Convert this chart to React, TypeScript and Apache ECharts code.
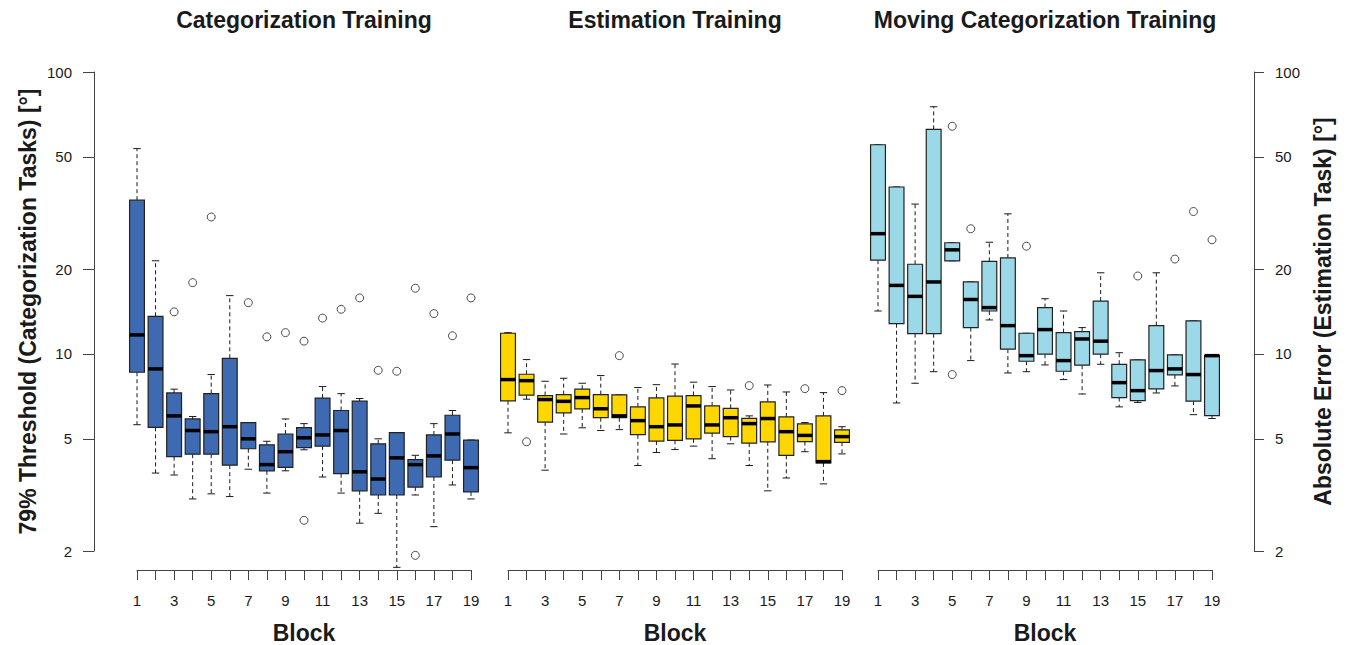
import React, { useEffect, useRef } from 'react';
import * as echarts from 'echarts';

// ---- categories & ticks ----
const blocks = [1, 2, 3, 4, 5, 6, 7, 8, 9, 10, 11, 12, 13, 14, 15, 16, 17, 18, 19];
const yTickValues = [2, 5, 10, 20, 50, 100];
const panelTitles = ['Categorization Training', 'Estimation Training', 'Moving Categorization Training'];
const xAxisTitle = 'Block';
const leftAxisTitle = '79% Threshold (Categorization Tasks) [°]';
const rightAxisTitle = 'Absolute Error (Estimation Task) [°]';

// ---- Categorization Training ----
const catLow = [5.61, 3.78, 3.72, 3.06, 3.19, 3.12, 3.9, 3.21, 3.85, 4.57, 3.66, 3.21, 2.51, 2.72, 1.75, 3.16, 2.44, 3.43, 3.06];
const catQ1 = [8.61, 5.49, 4.32, 4.41, 4.41, 4.03, 4.61, 3.85, 3.96, 4.65, 4.71, 3.76, 3.27, 3.16, 3.16, 3.37, 3.66, 4.2, 3.24];
const catMed = [11.68, 8.85, 6.03, 5.35, 5.3, 5.52, 5.0, 4.05, 4.5, 5.04, 5.16, 5.35, 3.82, 3.6, 4.28, 4.05, 4.35, 5.2, 3.95];
const catQ3 = [35.1, 13.6, 7.27, 5.88, 7.23, 9.65, 5.71, 4.76, 5.2, 5.48, 6.97, 6.3, 6.8, 4.8, 5.26, 4.22, 5.16, 6.06, 4.95];
const catHigh = [53.5, 21.4, 7.5, 6.0, 8.45, 16.1, 5.71, 4.9, 5.88, 5.66, 7.66, 7.23, 6.95, 5.0, 5.26, 4.37, 5.66, 6.3, 4.95];
const catOutliers = [
  [3, 14.1], [4, 17.9], [5, 30.6], [7, 15.2], [8, 11.5], [9, 11.9], [10, 11.1], [10, 2.57],
  [11, 13.4], [12, 14.4], [13, 15.8], [14, 8.75], [15, 8.68], [16, 17.1], [16, 1.93],
  [17, 13.9], [18, 11.6], [19, 15.8],
];

// ---- Estimation Training ----
const estLow = [5.25, 6.91, 3.87, 5.2, 5.47, 5.35, 5.39, 4.02, 4.47, 4.58, 4.71, 4.25, 4.8, 4.02, 3.27, 3.63, 4.5, 3.46, 4.42];
const estQ1 = [6.82, 7.14, 5.73, 6.18, 6.38, 5.94, 5.94, 5.17, 4.91, 4.94, 5.0, 5.24, 5.09, 4.83, 4.88, 4.37, 4.89, 4.11, 4.86];
const estMed = [8.11, 8.04, 6.89, 6.79, 7.0, 6.39, 6.03, 5.8, 5.52, 5.6, 6.54, 5.6, 5.94, 5.66, 5.9, 5.3, 5.14, 4.15, 5.09];
const estQ3 = [11.84, 8.47, 7.12, 7.17, 7.5, 7.17, 7.16, 6.49, 6.98, 7.08, 7.12, 6.54, 6.41, 5.91, 6.76, 5.98, 5.65, 6.03, 5.38];
const estHigh = [11.9, 9.55, 8.0, 8.2, 7.87, 8.38, 7.16, 7.6, 7.78, 9.21, 7.94, 7.66, 7.45, 6.03, 7.76, 7.33, 5.71, 7.29, 5.52];
const estOutliers = [[2, 4.88], [7, 9.86], [14, 7.72], [17, 7.53], [19, 7.41]];

// ---- Moving Categorization Training ----
const movLow = [14.2, 6.7, 7.87, 8.65, 21.4, 9.47, 13.2, 8.56, 8.65, 9.14, 8.11, 7.21, 9.19, 6.49, 6.73, 7.27, 7.7, 6.09, 5.9];
const movQ1 = [21.5, 12.8, 11.8, 11.8, 21.4, 12.4, 14.2, 10.4, 9.42, 9.98, 8.68, 9.12, 9.98, 7.0, 6.83, 7.52, 8.43, 6.8, 6.04];
const movMed = [26.7, 17.5, 16.0, 18.0, 23.4, 15.6, 14.6, 12.6, 9.86, 12.2, 9.47, 11.3, 11.1, 7.91, 7.41, 8.73, 8.85, 8.45, 9.86];
const movQ3 = [55.2, 39.1, 20.8, 62.6, 24.8, 18.0, 21.3, 21.9, 11.84, 14.6, 11.9, 12.0, 15.4, 9.19, 9.52, 12.6, 9.92, 13.1, 9.86];
const movHigh = [55.2, 39.1, 34.0, 75.3, 24.8, 18.0, 24.9, 31.4, 11.84, 15.7, 14.2, 12.4, 19.4, 10.1, 9.52, 19.4, 9.92, 13.1, 9.86];
const movOutliers = [[5, 64.2], [5, 8.45], [6, 27.8], [9, 24.1], [15, 18.9], [17, 21.7], [18, 32.0], [19, 25.4]];

const panelColors = ['#3D6AB0', '#FFD700', '#9BD9E8'];

const lg = (v: number) => Math.log10(v);

function boxRows(lo: number[], q1: number[], md: number[], q3: number[], hi: number[]) {
  return blocks.map((b, i) => [b, lg(lo[i]), lg(q1[i]), lg(md[i]), lg(q3[i]), lg(hi[i])]);
}

function makeRender(fill: string) {
  return (params: any, api: any) => {
    const x = api.value(0);
    const pLo = api.coord([x, api.value(1)]);
    const pQ1 = api.coord([x, api.value(2)]);
    const pMd = api.coord([x, api.value(3)]);
    const pQ3 = api.coord([x, api.value(4)]);
    const pHi = api.coord([x, api.value(5)]);
    const unit = api.size([1, 0])[0];
    const hw = unit * 0.4;
    const cw = unit * 0.2;
    const cx = pMd[0];
    const dashed = { stroke: '#1a1a1a', lineWidth: 1, lineDash: [4, 3], fill: null };
    const solid = { stroke: '#1a1a1a', lineWidth: 1, fill: null };
    return {
      type: 'group',
      children: [
        { type: 'line', shape: { x1: cx, y1: pQ3[1], x2: cx, y2: pHi[1] }, style: dashed },
        { type: 'line', shape: { x1: cx, y1: pQ1[1], x2: cx, y2: pLo[1] }, style: dashed },
        { type: 'line', shape: { x1: cx - cw, y1: pHi[1], x2: cx + cw, y2: pHi[1] }, style: solid },
        { type: 'line', shape: { x1: cx - cw, y1: pLo[1], x2: cx + cw, y2: pLo[1] }, style: solid },
        {
          type: 'rect',
          shape: { x: cx - hw, y: pQ3[1], width: 2 * hw, height: pQ1[1] - pQ3[1] },
          style: { fill, stroke: '#222', lineWidth: 1.2 },
        },
        {
          type: 'line',
          shape: { x1: cx - hw, y1: pMd[1], x2: cx + hw, y2: pMd[1] },
          style: { stroke: '#000', lineWidth: 3.5, fill: null },
        },
      ],
    };
  };
}

const FONT = '"Liberation Sans", Arial, Helvetica, sans-serif';
const TEXT = '#1a1a1a';
const BOLD_SIZE = 23;

export default function App() {
  const ref = useRef<HTMLDivElement>(null);

  useEffect(() => {
    if (!ref.current) return;
    const chart = echarts.init(ref.current, null, { renderer: 'svg' });

    const panels = [
      { rows: boxRows(catLow, catQ1, catMed, catQ3, catHigh), out: catOutliers },
      { rows: boxRows(estLow, estQ1, estMed, estQ3, estHigh), out: estOutliers },
      { rows: boxRows(movLow, movQ1, movMed, movQ3, movHigh), out: movOutliers },
    ];
    const gridLefts = [137, 508, 878];
    const gridWidth = 334;

    const grids = gridLefts.map((left) => ({
      left,
      width: gridWidth,
      top: 72,
      height: 479,
      containLabel: false,
      outerBoundsMode: 'none',
    }));

    const xAxes = gridLefts.map((_, i) => ({
      type: 'value',
      gridIndex: i,
      min: 1,
      max: 19,
      interval: 1,
      offset: 19,
      name: xAxisTitle,
      nameLocation: 'middle',
      nameGap: 51,
      nameTextStyle: { fontFamily: FONT, fontWeight: 'bold', fontSize: BOLD_SIZE, color: TEXT },
      axisLine: { show: true, lineStyle: { color: '#444', width: 1 } },
      axisTick: { show: true, length: 10, lineStyle: { color: '#444', width: 1 } },
      axisLabel: {
        show: true,
        margin: 23,
        fontFamily: FONT,
        fontSize: 15,
        color: TEXT,
        formatter: (v: number) => (Math.round(v) % 2 === 1 ? String(Math.round(v)) : ''),
      },
      splitLine: { show: false },
    }));

    const yTicksLog = yTickValues.map(lg);
    const yBase = (i: number) => ({
      type: 'value',
      gridIndex: i,
      min: lg(yTickValues[0]),
      max: lg(yTickValues[yTickValues.length - 1]),
      splitLine: { show: false },
    });
    const yAxes: any[] = [
      {
        ...yBase(0),
        position: 'left',
        offset: 43,
        name: leftAxisTitle,
        nameLocation: 'middle',
        nameRotate: 90,
        nameGap: 55,
        nameTextStyle: { fontFamily: FONT, fontWeight: 'bold', fontSize: BOLD_SIZE, color: TEXT },
        axisLine: { show: true, lineStyle: { color: '#444', width: 1 } },
        axisTick: { show: true, length: 11, customValues: yTicksLog, lineStyle: { color: '#444', width: 1 } },
        axisLabel: {
          show: true,
          margin: 22,
          fontFamily: FONT,
          fontSize: 15,
          color: TEXT,
          customValues: yTicksLog,
          formatter: (v: number) => String(Math.round(Math.pow(10, v))),
        },
      },
      { ...yBase(1), show: false },
      {
        ...yBase(2),
        position: 'right',
        offset: 42,
        name: rightAxisTitle,
        nameLocation: 'middle',
        nameRotate: 90,
        nameGap: 57,
        nameTextStyle: { fontFamily: FONT, fontWeight: 'bold', fontSize: BOLD_SIZE, color: TEXT },
        axisLine: { show: true, lineStyle: { color: '#444', width: 1 } },
        axisTick: { show: true, length: 10, customValues: yTicksLog, lineStyle: { color: '#444', width: 1 } },
        axisLabel: {
          show: true,
          margin: 21,
          fontFamily: FONT,
          fontSize: 15,
          color: TEXT,
          customValues: yTicksLog,
          formatter: (v: number) => String(Math.round(Math.pow(10, v))),
        },
      },
    ];

    const series: any[] = [];
    panels.forEach((p, i) => {
      series.push({
        type: 'custom',
        name: panelTitles[i],
        xAxisIndex: i,
        yAxisIndex: i,
        clip: false,
        encode: { x: 0, y: [1, 2, 3, 4, 5] },
        renderItem: makeRender(panelColors[i]),
        data: p.rows,
        silent: true,
      });
      series.push({
        type: 'scatter',
        name: panelTitles[i] + ' outliers',
        xAxisIndex: i,
        yAxisIndex: i,
        clip: false,
        symbol: 'circle',
        symbolSize: 8,
        itemStyle: { color: 'rgba(255,255,255,0)', borderColor: '#222', borderWidth: 1 },
        data: p.out.map(([b, v]) => [b, lg(v)]),
        silent: true,
      });
    });

    const titles = panelTitles.map((t, i) => ({
      text: t,
      left: gridLefts[i] + gridWidth / 2,
      top: 8,
      padding: 0,
      textAlign: 'center',
      textStyle: { fontFamily: FONT, fontWeight: 'bold', fontSize: BOLD_SIZE, color: TEXT },
    }));

    chart.setOption({
      animation: false,
      backgroundColor: '#ffffff',
      title: titles,
      grid: grids,
      xAxis: xAxes,
      yAxis: yAxes,
      series,
    });

    return () => chart.dispose();
  }, []);

  return <div ref={ref} style={{ width: 1348, height: 645, position: 'absolute', left: 0, top: 0 }} />;
}
